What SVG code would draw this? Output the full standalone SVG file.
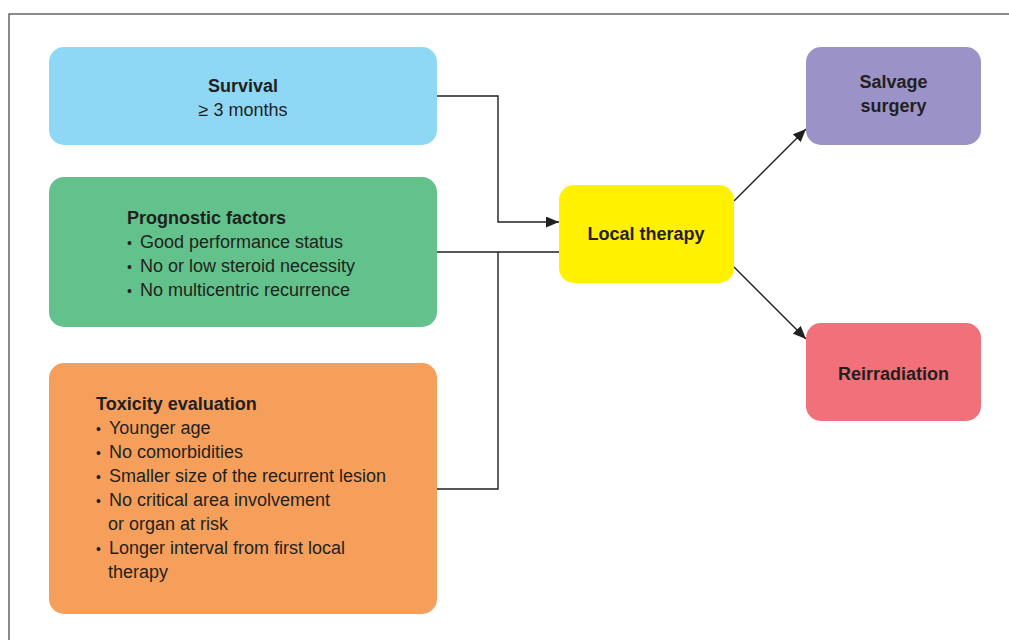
<svg xmlns="http://www.w3.org/2000/svg" width="1009" height="640" viewBox="0 0 1009 640">
<defs>
<style>
.t{font-family:"Liberation Sans",Arial,sans-serif;font-size:18px;fill:#231f20}
.b{font-weight:bold}
.c{text-anchor:middle}
.d{font-size:14px}
.ln{fill:none;stroke:#231f20;stroke-width:1.4}
.frame{fill:none;stroke:#666;stroke-width:1.5}
</style>
<marker id="ah" viewBox="0 0 13 11" refX="13" refY="5.5" markerWidth="13" markerHeight="11" markerUnits="userSpaceOnUse" orient="auto">
<path d="M0,0 L13,5.5 L0,11 z" fill="#231f20"/>
</marker>
</defs>
<rect width="1009" height="640" fill="#fff"/>
<path class="frame" d="M9,645 V14 H1015"/>
<g id="connectors">
<path class="ln" d="M437,96 H498 V222 H559" marker-end="url(#ah)"/>
<path class="ln" d="M437,252 H559"/>
<path class="ln" d="M498,252 V489 H437"/>
<path class="ln" d="M734,201 L806,129" marker-end="url(#ah)"/>
<path class="ln" d="M734,267 L806,339" marker-end="url(#ah)"/>
</g>
<g id="survival">
<rect x="49" y="47" width="388" height="98" rx="15" fill="#8ed8f5"/>
<text class="t b c" x="243" y="92">Survival</text>
<text class="t c" x="243" y="116">≥ 3 months</text>
</g>
<g id="prognostic">
<rect x="49" y="177" width="388" height="150" rx="15" fill="#63c18c"/>
<text class="t b" x="127" y="223.5">Prognostic factors</text>
<text class="t" y="247.5"><tspan class="d" x="127">•</tspan><tspan x="140">Good performance status</tspan></text>
<text class="t" y="271.5"><tspan class="d" x="127">•</tspan><tspan x="140">No or low steroid necessity</tspan></text>
<text class="t" y="295.5"><tspan class="d" x="127">•</tspan><tspan x="140">No multicentric recurrence</tspan></text>
</g>
<g id="toxicity">
<rect x="49" y="363" width="388" height="251" rx="15" fill="#f69f5a"/>
<text class="t b" x="96" y="410">Toxicity evaluation</text>
<text class="t" y="434"><tspan class="d" x="96">•</tspan><tspan x="109">Younger age</tspan></text>
<text class="t" y="458"><tspan class="d" x="96">•</tspan><tspan x="109">No comorbidities</tspan></text>
<text class="t" y="482"><tspan class="d" x="96">•</tspan><tspan x="109">Smaller size of the recurrent lesion</tspan></text>
<text class="t" y="506"><tspan class="d" x="96">•</tspan><tspan x="109">No critical area involvement</tspan></text>
<text class="t" x="108" y="530">or organ at risk</text>
<text class="t" y="554"><tspan class="d" x="96">•</tspan><tspan x="109">Longer interval from first local</tspan></text>
<text class="t" x="108" y="578">therapy</text>
</g>
<g id="local">
<rect x="559" y="185" width="175" height="98" rx="15" fill="#fff100"/>
<text class="t b c" x="646" y="240">Local therapy</text>
</g>
<g id="salvage">
<rect x="806" y="47" width="175" height="98" rx="15" fill="#9b93c7"/>
<text class="t b c" x="893.5" y="88">Salvage</text>
<text class="t b c" x="893.5" y="112">surgery</text>
</g>
<g id="reirradiation">
<rect x="806" y="323" width="175" height="98" rx="15" fill="#f1707a"/>
<text class="t b c" x="893.5" y="380">Reirradiation</text>
</g>
</svg>
